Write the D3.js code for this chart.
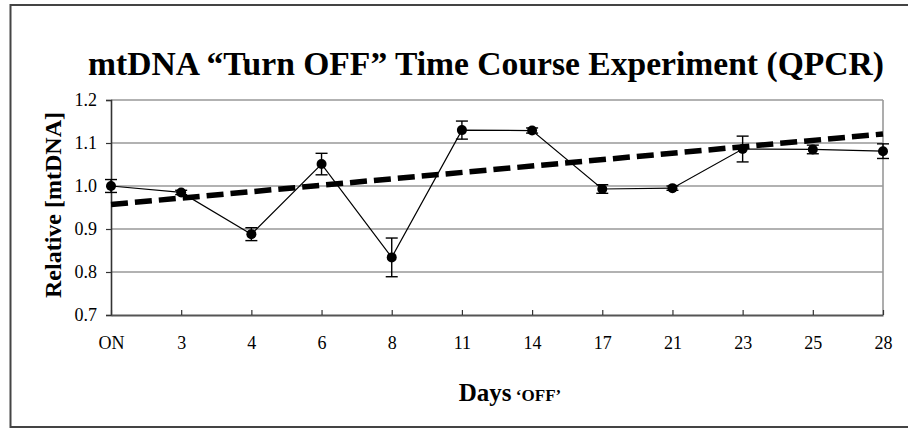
<!DOCTYPE html>
<html>
<head>
<meta charset="utf-8">
<script src="https://cdn.jsdelivr.net/npm/d3@7"></script>
<style>
  html, body { margin: 0; padding: 0; background: #fff; }
  svg { display: block; }
  text { font-family: "Liberation Serif", "Times New Roman", serif; fill: #000; }
</style>
</head>
<body>
<svg id="chart" width="908" height="428"></svg>
<script>
// ---- data ----
const categories = ["ON", "3", "4", "6", "8", "11", "14", "17", "21", "23", "25", "28"];
const values = [1.000, 0.985, 0.888, 1.051, 0.834, 1.130, 1.129, 0.993, 0.995, 1.086, 1.085, 1.081];
const errors = [0.015, 0.005, 0.015, 0.025, 0.045, 0.021, 0.006, 0.010, 0.005, 0.030, 0.010, 0.017];
const trendValues = [0.957, 1.121]; // trend line value at first and last category
const yTicks = [0.7, 0.8, 0.9, 1.0, 1.1, 1.2];
const yTickLabels = ["0.7", "0.8", "0.9", "1.0", "1.1", "1.2"];
const titleText = "mtDNA \u201CTurn OFF\u201D Time Course Experiment (QPCR)";
const yTitle = "Relative [mtDNA]";
const xTitleMain = "Days";
const xTitleSub = " \u2018OFF\u2019";

// ---- layout ----
const svg = d3.select("#chart");
const plot = { left: 111, right: 883, top: 100, bottom: 315 };

const x = d3.scalePoint().domain(categories).range([plot.left, plot.right]).padding(0);
const y = d3.scaleLinear().domain([0.7, 1.2]).range([plot.bottom, plot.top]);

// outer frame
svg.append("path")
  .attr("d", `M908,5 H10.5 V427 H908`)
  .attr("fill", "none").attr("stroke", "#444").attr("stroke-width", 2);

// gridlines
svg.append("g").selectAll("line").data(yTicks.filter(v => v > 0.7))
  .join("line")
  .attr("x1", plot.left).attr("x2", plot.right)
  .attr("y1", d => y(d)).attr("y2", d => y(d))
  .attr("stroke", "#999").attr("stroke-width", 1.6);

// right border of plot
svg.append("line")
  .attr("x1", plot.right).attr("x2", plot.right)
  .attr("y1", plot.top).attr("y2", plot.bottom)
  .attr("stroke", "#999").attr("stroke-width", 1.6);

// y axis
const yAxis = d3.axisLeft(y).tickValues(yTicks).tickFormat((d, i) => yTickLabels[i]).tickSize(5).tickPadding(9);
const gy = svg.append("g").attr("transform", `translate(${plot.left},0)`).call(yAxis);
gy.select(".domain").attr("stroke", "#333").attr("stroke-width", 1.6);
gy.selectAll(".tick line").attr("stroke", "#333").attr("stroke-width", 1.2);
gy.selectAll(".tick text").attr("font-size", 18).style("font-family", "Liberation Serif");

// x axis (ticks pointing up into plot)
const xAxis = d3.axisBottom(x).tickSizeInner(-5).tickSizeOuter(0).tickPadding(21);
const gx = svg.append("g").attr("transform", `translate(0,${plot.bottom})`).call(xAxis);
gx.select(".domain").attr("stroke", "#555").attr("stroke-width", 2.2);
gx.selectAll(".tick line").attr("stroke", "#333").attr("stroke-width", 1.2);
gx.selectAll(".tick text").attr("font-size", 18).style("font-family", "Liberation Serif");

// trend line (dashed)
svg.append("line")
  .attr("x1", x(categories[0])).attr("y1", y(trendValues[0]))
  .attr("x2", x(categories[categories.length - 1])).attr("y2", y(trendValues[1]))
  .attr("stroke", "#000").attr("stroke-width", 5.5)
  .attr("stroke-dasharray", "17,7");

// data line
const line = d3.line().x((d, i) => x(categories[i])).y(d => y(d));
svg.append("path").datum(values)
  .attr("d", line).attr("fill", "none").attr("stroke", "#000").attr("stroke-width", 1.2);

// error bars
const eb = svg.append("g").selectAll("g").data(values).join("g");
eb.append("line")
  .attr("x1", (d, i) => x(categories[i])).attr("x2", (d, i) => x(categories[i]))
  .attr("y1", (d, i) => y(d + errors[i])).attr("y2", (d, i) => y(d - errors[i]))
  .attr("stroke", "#000").attr("stroke-width", 1.4);
eb.append("line")
  .attr("x1", (d, i) => x(categories[i]) - 6).attr("x2", (d, i) => x(categories[i]) + 6)
  .attr("y1", (d, i) => y(d + errors[i])).attr("y2", (d, i) => y(d + errors[i]))
  .attr("stroke", "#000").attr("stroke-width", 1.4);
eb.append("line")
  .attr("x1", (d, i) => x(categories[i]) - 6).attr("x2", (d, i) => x(categories[i]) + 6)
  .attr("y1", (d, i) => y(d - errors[i])).attr("y2", (d, i) => y(d - errors[i]))
  .attr("stroke", "#000").attr("stroke-width", 1.4);

// markers
svg.append("g").selectAll("circle").data(values).join("circle")
  .attr("cx", (d, i) => x(categories[i])).attr("cy", d => y(d))
  .attr("r", 5).attr("fill", "#000");

// title
svg.append("text")
  .attr("x", 486).attr("y", 75)
  .attr("text-anchor", "middle")
  .attr("font-size", 33.6).attr("font-weight", "bold")
  .text(titleText);

// y title
svg.append("text")
  .attr("transform", "translate(61,205) rotate(-90)")
  .attr("text-anchor", "middle")
  .attr("font-size", 24).attr("font-weight", "bold")
  .text(yTitle);

// x title
const xt = svg.append("text")
  .attr("x", 510).attr("y", 401)
  .attr("text-anchor", "middle")
  .attr("font-weight", "bold");
xt.append("tspan").attr("font-size", 25).text(xTitleMain);
xt.append("tspan").attr("font-size", 17).text(xTitleSub);
</script>
</body>
</html>
